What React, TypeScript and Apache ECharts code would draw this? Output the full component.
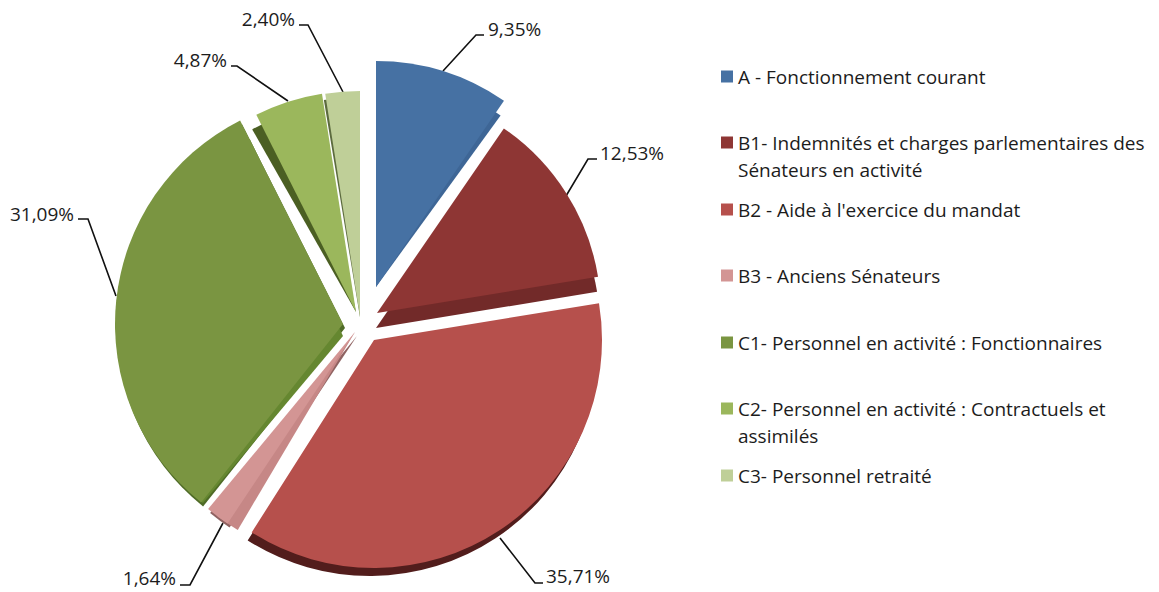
import React, { useEffect, useRef } from "react";
import * as echarts from "echarts";

const categories = [
  "A - Fonctionnement courant",
  "B1- Indemnités et charges parlementaires des",
  "B2 - Aide à l'exercice du mandat",
  "B3 - Anciens Sénateurs",
  "C1- Personnel en activité : Fonctionnaires",
  "C2- Personnel en activité : Contractuels et",
  "C3- Personnel retraité",
];
const legendSecondLines = ["", "Sénateurs en activité", "", "", "", "assimilés", ""];
const shares = [9.35, 12.53, 35.71, 1.64, 31.09, 4.87, 2.4];

const FONT = "'Open Sans', 'Noto Sans', sans-serif";
const TEXT = "#1c1c1c";

// presentation of every exploded slice: position, radius, colour, rotation
const faces = [
  { c: [376, 287], r: 226, color: "#4671A3", rot: 0 },
  { c: [377, 313], r: 224, color: "#8E3634", rot: 0 },
  { c: [374, 340], r: 228, color: "#B6504C", rot: 0 },
  { c: [355, 332], r: 230, color: "#D39594", rot: 1.2 },
  { c: [343, 324], r: 228, color: "#7A9541", rot: 0 },
  { c: [356, 312], r: 221, color: "#9BB75C", rot: 0 },
  { c: [360, 317], r: 226, color: "#BFCF98", rot: 0 },
];
// side faces of the pseudo-3D look, drawn behind the top faces
const sides = [
  { i: 0, c: [376, 287], r: 212, color: "#3E6696", rot: 1.5 },
  { i: 1, c: [376, 328], r: 224, color: "#722A29", rot: 0 },
  { i: 2, c: [370, 348], r: 228, color: "#521D1C", rot: 0 },
  { i: 3, c: [357, 336], r: 230, color: "#8F6261", rot: 1.2 },
  { i: 3, c: [355, 332], r: 230, color: "#C68786", rot: -1.8 },
  { i: 4, c: [345, 328], r: 228, color: "#4F6B27", rot: 0 },
  { i: 4, c: [343, 336], r: 218, color: "#658730", rot: 1.5 },
  { i: 5, c: [356, 312], r: 210, color: "#4B5F23", rot: -2.8 },
  { i: 6, c: [360, 317], r: 220, color: "#5C6B3E", rot: -0.6 },
];
// label anchor and leader line for every slice
const callouts = [
  { x: 488, y: 29, align: "left", line: [[443, 71], [476, 35], [484, 35]] },
  { x: 600, y: 153, align: "left", line: [[566, 196], [588, 159], [597, 159]] },
  { x: 546, y: 576, align: "left", line: [[500, 538], [535, 583], [543, 583]] },
  { x: 176, y: 578, align: "right", line: [[223, 523], [190, 585], [180, 585]] },
  { x: 74, y: 214, align: "right", line: [[116, 296], [88, 219], [78, 219]] },
  { x: 227, y: 60, align: "right", line: [[288, 101], [237, 66], [231, 66]] },
  { x: 295, y: 19, align: "right", line: [[343, 92], [308, 25], [299, 25]] },
];
const legendTops = [62, 128, 195, 261, 328, 394, 461];

const fmt = (v: number) => v.toFixed(2).replace(".", ",") + "%";

function sliceData(only: number, color: string, named: boolean) {
  return shares.map((v, j) =>
    j === only
      ? { name: named ? categories[j] : "side " + j, value: v, itemStyle: { color } }
      : {
          name: "rest " + j,
          value: v,
          itemStyle: { color: "rgba(0,0,0,0)" },
          label: { show: false },
          labelLine: { show: false },
        }
  );
}

function buildOption() {
  const sideSeries = sides.map((s) => ({
    type: "pie",
    silent: true,
    center: s.c,
    radius: [0, s.r],
    startAngle: 90 - s.rot,
    label: { show: false },
    labelLine: { show: false },
    data: sliceData(s.i, s.color, false),
  }));
  const faceSeries = faces.map((f, i) => ({
    type: "pie",
    silent: true,
    center: f.c,
    radius: [0, f.r],
    startAngle: 90 - f.rot,
    avoidLabelOverlap: false,
    label: {
      show: true,
      position: "outside",
      formatter: () => fmt(shares[i]),
      fontFamily: FONT,
      fontSize: 19,
      color: TEXT,
    },
    labelLine: { show: true, lineStyle: { color: "#111111", width: 1.6 } },
    labelLayout: () => ({
      x: callouts[i].x,
      y: callouts[i].y,
      align: callouts[i].align,
      verticalAlign: "middle",
      labelLinePoints: callouts[i].line,
    }),
    data: sliceData(i, f.color, true),
  }));
  return {
    animation: false,
    backgroundColor: "#ffffff",
    legend: categories.map((name, i) => ({
      left: 716,
      top: legendTops[i],
      padding: 5,
      icon: "rect",
      itemWidth: 12,
      itemHeight: 12,
      selectedMode: false,
      data: [{ name, itemStyle: { color: faces[i].color } }],
      textStyle: { fontFamily: FONT, fontSize: 19, color: TEXT },
    })),
    graphic: legendSecondLines
      .map((text, i) =>
        text
          ? {
              type: "text",
              left: 738,
              top: legendTops[i] + 32,
              style: { text, fontFamily: FONT, fontSize: 19, fill: TEXT },
            }
          : null
      )
      .filter(Boolean),
    series: [...sideSeries, ...faceSeries],
  };
}

export default function App() {
  const ref = useRef<HTMLDivElement>(null);
  useEffect(() => {
    const chart = echarts.init(ref.current!, undefined, { renderer: "svg" });
    chart.setOption(buildOption() as any);
    return () => chart.dispose();
  }, []);
  return (
    <div
      ref={ref}
      style={{ position: "absolute", left: 0, top: 0, width: 1159, height: 592 }}
    />
  );
}
